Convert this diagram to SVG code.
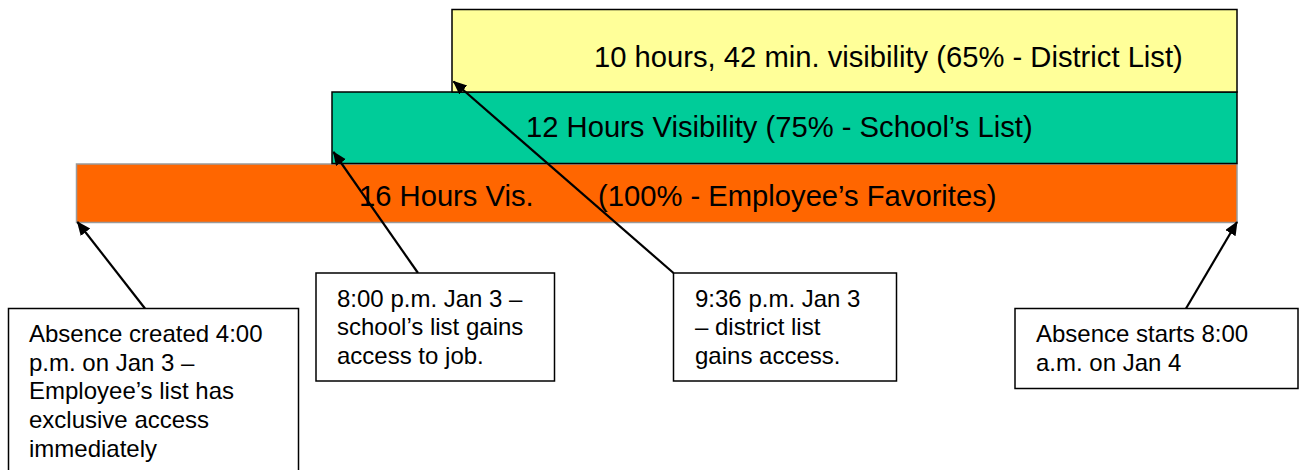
<svg xmlns="http://www.w3.org/2000/svg" width="1303" height="470" viewBox="0 0 1303 470">
<style>
  .bartxt { font-family: "Liberation Sans", Arial, sans-serif; font-size: 29.2px; fill: #000; }
  .boxtxt { font-family: "Liberation Sans", Arial, sans-serif; font-size: 24px; fill: #000; }
  .box { fill: #fff; stroke: #000; stroke-width: 1.5; }
  .conn { stroke: #000; stroke-width: 2.2; fill: none; marker-end: url(#arrow); }
</style>
<defs>
  <marker id="arrow" markerUnits="userSpaceOnUse" markerWidth="16" markerHeight="14" refX="13" refY="6" orient="auto">
    <path d="M0,0 L14,6 L0,12 z" fill="#000"/>
  </marker>
</defs>
<rect width="1303" height="470" fill="#fff"/>

<g id="bar-employee">
  <rect x="76.5" y="164" width="1160.5" height="58.5" fill="#FF6600" stroke="#9a9a9a" stroke-width="1.5"/>
  <text class="bartxt" y="205.5"><tspan x="359">16 Hours Vis.</tspan><tspan x="598">(100% - Employee’s Favorites)</tspan></text>
</g>
<g id="bar-school">
  <rect x="332" y="92" width="905" height="71.5" fill="#00CC99" stroke="#000" stroke-width="1.5"/>
  <text class="bartxt" x="526" y="136.5">12 Hours Visibility (75% - School’s List)</text>
</g>
<g id="bar-district">
  <rect x="452" y="9.5" width="785" height="82.5" fill="#FFFF99" stroke="#000" stroke-width="1.5"/>
  <text class="bartxt" x="594" y="66.5">10 hours, 42 min. visibility (65% - District List)</text>
</g>

<g id="connectors">
  <line class="conn" x1="145" y1="308.5" x2="77.5" y2="222"/>
  <line class="conn" x1="418" y1="273" x2="333.5" y2="152"/>
  <line class="conn" x1="673.5" y1="273" x2="453.5" y2="81.5"/>
  <line class="conn" x1="1186" y1="308.5" x2="1237" y2="222"/>
</g>

<g id="note-created">
  <rect class="box" x="8.5" y="308.5" width="290" height="175"/>
  <text class="boxtxt">
    <tspan x="29" y="342">Absence created 4:00</tspan>
    <tspan x="29" y="370.7">p.m. on Jan 3 –</tspan>
    <tspan x="29" y="399.4">Employee’s list has</tspan>
    <tspan x="29" y="428">exclusive access</tspan>
    <tspan x="29" y="456.7">immediately</tspan>
  </text>
</g>
<g id="note-school">
  <rect class="box" x="316" y="273" width="238.5" height="108"/>
  <text class="boxtxt">
    <tspan x="337" y="306.5">8:00 p.m. Jan 3 –</tspan>
    <tspan x="337" y="335">school’s list gains</tspan>
    <tspan x="337" y="363.5">access to job.</tspan>
  </text>
</g>
<g id="note-district">
  <rect class="box" x="673.5" y="273" width="223" height="108"/>
  <text class="boxtxt">
    <tspan x="695" y="306.5">9:36 p.m. Jan 3</tspan>
    <tspan x="695" y="335">– district list</tspan>
    <tspan x="695" y="363.5">gains access.</tspan>
  </text>
</g>
<g id="note-start">
  <rect class="box" x="1015" y="308.5" width="283" height="80"/>
  <text class="boxtxt">
    <tspan x="1036" y="342">Absence starts 8:00</tspan>
    <tspan x="1036" y="370.7">a.m. on Jan 4</tspan>
  </text>
</g>
</svg>
